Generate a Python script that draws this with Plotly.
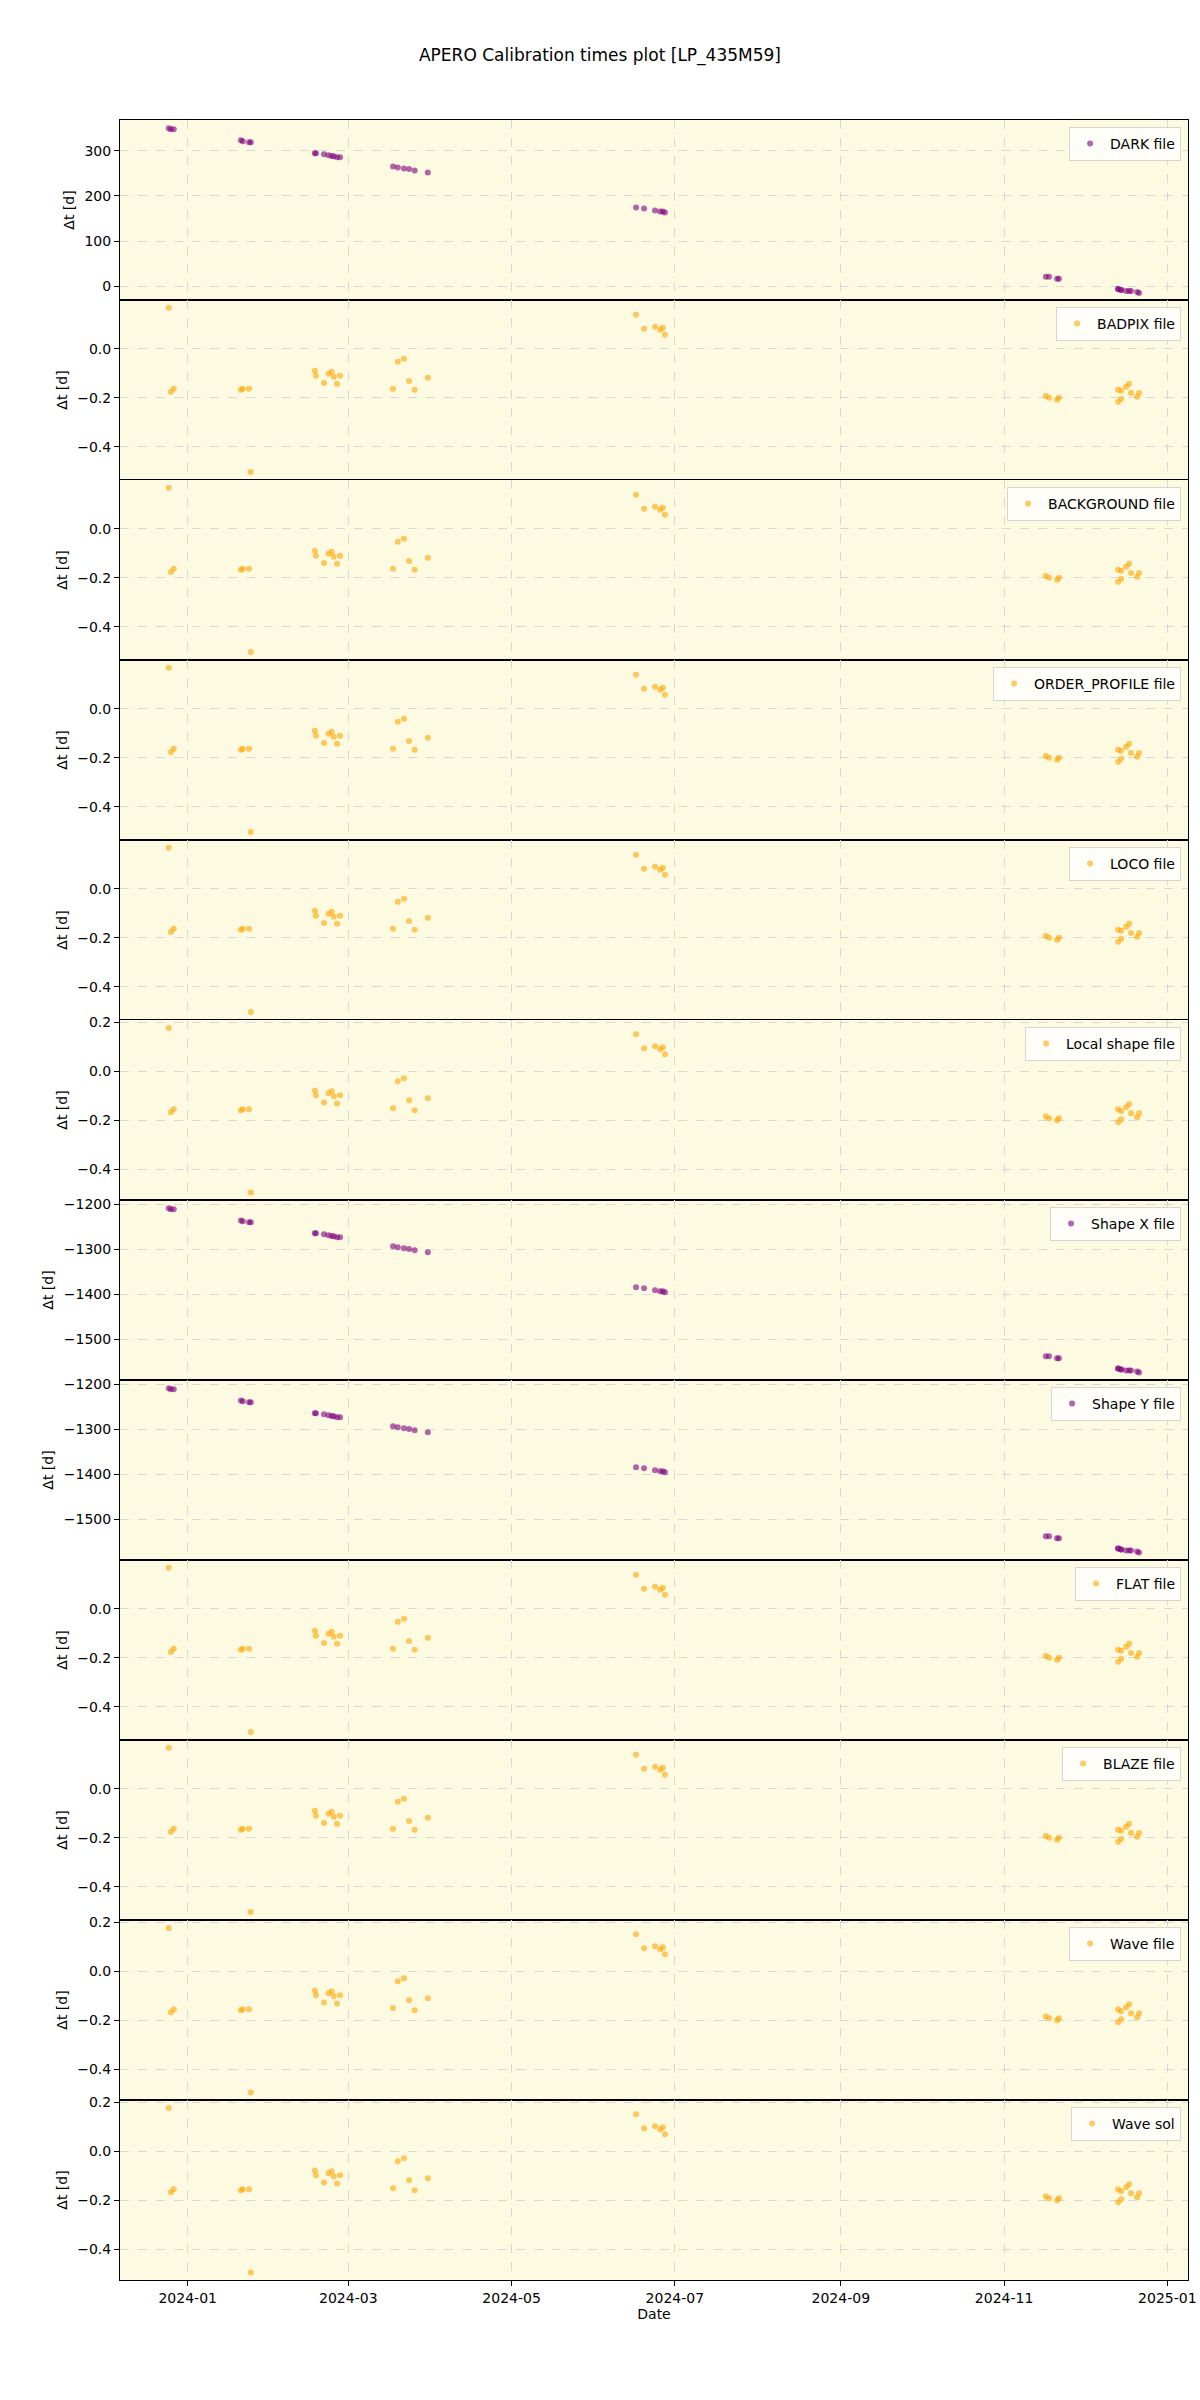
import plotly.graph_objects as go
from plotly.subplots import make_subplots

# observation dates (same for every panel)
obs_dates = [
    '2023-12-24 22:00', '2023-12-25 17:00', '2023-12-26 19:00',
    '2024-01-20 21:00', '2024-01-21 14:00', '2024-01-23 22:00', '2024-01-24 14:00',
    '2024-02-17 12:00', '2024-02-17 22:00', '2024-02-20 22:00', '2024-02-22 14:00',
    '2024-02-23 19:00', '2024-02-24 14:00', '2024-02-25 19:00', '2024-02-26 22:00',
    '2024-03-17 17:00', '2024-03-19 12:00', '2024-03-21 19:00', '2024-03-23 17:00',
    '2024-03-25 19:00', '2024-03-30 17:00',
    '2024-06-16 12:00', '2024-06-19 12:00', '2024-06-23 14:00', '2024-06-25 12:00',
    '2024-06-26 12:00', '2024-06-27 07:00',
    '2024-11-16 14:00', '2024-11-17 19:00', '2024-11-20 19:00', '2024-11-21 12:00',
    '2024-12-13 14:00', '2024-12-13 15:00', '2024-12-14 17:00', '2024-12-14 18:00',
    '2024-12-16 14:00', '2024-12-17 17:00', '2024-12-18 10:00', '2024-12-20 17:00',
    '2024-12-21 10:00',
]

dark_dt = [
    349.8, 347.6, 347.6,
    323.0, 320.9, 318.7, 318.7,
    294.2, 294.2, 292.0, 289.8, 288.2, 287.6, 285.3, 285.3,
    265.3, 263.1, 260.9, 259.3, 256.4, 252.0,
    174.2, 172.0, 167.6, 165.3, 165.3, 163.1,
    20.9, 20.9, 16.4, 16.4,
    -6.2, -6.2, -8.4, -8.4, -10.7, -10.7, -10.7, -12.9, -15.1,
]

# BADPIX / BACKGROUND / ORDER_PROFILE / LOCO / FLAT / BLAZE look the same
calib_dt = [
    0.167, -0.176, -0.163,
    -0.167, -0.163, -0.163, -0.502,
    -0.089, -0.110, -0.139, -0.102, -0.094, -0.114, -0.143, -0.110,
    -0.163, -0.053, -0.041, -0.131, -0.167, -0.118,
    0.139, 0.082, 0.090, 0.078, 0.086, 0.057,
    -0.192, -0.200, -0.208, -0.200,
    -0.167, -0.216, -0.171, -0.204, -0.155, -0.143, -0.180, -0.196, -0.180,
]

# Local shape / Wave file / Wave sol
wave_dt = [
    0.176, -0.167, -0.155,
    -0.159, -0.155, -0.155, -0.494,
    -0.078, -0.098, -0.127, -0.090, -0.082, -0.102, -0.131, -0.098,
    -0.151, -0.041, -0.029, -0.118, -0.159, -0.110,
    0.151, 0.094, 0.102, 0.090, 0.098, 0.069,
    -0.184, -0.192, -0.200, -0.192,
    -0.155, -0.208, -0.163, -0.196, -0.147, -0.135, -0.171, -0.188, -0.171,
]

shape_dt = [
    -1208.9, -1211.1, -1211.1,
    -1235.7, -1237.8, -1240.0, -1240.0,
    -1264.5, -1264.5, -1266.7, -1268.9, -1270.5, -1271.1, -1273.4, -1273.4,
    -1293.4, -1295.6, -1297.8, -1299.4, -1302.3, -1306.7,
    -1384.5, -1386.7, -1391.1, -1393.4, -1393.4, -1395.6,
    -1537.8, -1537.8, -1542.3, -1542.3,
    -1564.9, -1564.9, -1567.1, -1567.1, -1569.4, -1569.4, -1569.4, -1571.6, -1573.8,
]

# (legend name, values, colour, y range, tick step, tick format)
panels = [
    ('DARK file', dark_dt, 'purple', [-30.4, 368], 100, 'd'),
    ('BADPIX file', calib_dt, 'orange', [-0.535, 0.199], 0.2, '.1f'),
    ('BACKGROUND file', calib_dt, 'orange', [-0.535, 0.199], 0.2, '.1f'),
    ('ORDER_PROFILE file', calib_dt, 'orange', [-0.535, 0.199], 0.2, '.1f'),
    ('LOCO file', calib_dt, 'orange', [-0.535, 0.199], 0.2, '.1f'),
    ('Local shape file', wave_dt, 'orange', [-0.525, 0.209], 0.2, '.1f'),
    ('Shape X file', shape_dt, 'purple', [-1590.4, -1190.4], 100, 'd'),
    ('Shape Y file', shape_dt, 'purple', [-1590.4, -1190.4], 100, 'd'),
    ('FLAT file', calib_dt, 'orange', [-0.535, 0.199], 0.2, '.1f'),
    ('BLAZE file', calib_dt, 'orange', [-0.535, 0.199], 0.2, '.1f'),
    ('Wave file', wave_dt, 'orange', [-0.525, 0.209], 0.2, '.1f'),
    ('Wave sol', wave_dt, 'orange', [-0.525, 0.209], 0.2, '.1f'),
]

n = len(panels)
W, H = 1200, 2400
m_l, m_r, m_t, m_b = 120, 12, 120, 120
panel_h = (H - m_t - m_b) / n

fig = make_subplots(rows=n, cols=1, shared_xaxes=True, vertical_spacing=0)

grid = dict(showgrid=True, gridcolor='#d8d8d8', griddash='dash', gridwidth=1,
            showline=True, mirror=True, linecolor='black', linewidth=1,
            zeroline=False, automargin=False)

for i, (name, vals, color, yr, step, fmt) in enumerate(panels):
    row = i + 1
    leg = 'legend' if i == 0 else f'legend{row}'
    fig.add_trace(go.Scatter(
        x=obs_dates, y=vals, mode='markers', name=name,
        marker=dict(color=color, size=6, opacity=0.6, line=dict(width=0)),
        legend=leg, showlegend=True,
    ), row=row, col=1)

    fig.update_yaxes(range=yr, dtick=step, tick0=0, tickformat=fmt,
                     ticks='outside', ticklen=5, tickcolor='black',
                     title=dict(text='Δt [d]', standoff=6, font=dict(size=14)),
                     row=row, col=1, **grid)

    # legend box in the upper right of each panel
    top_px = m_t + i * panel_h + 7
    fig.update_layout({leg: dict(
        x=0.9935, xanchor='right',
        y=(H - m_b - top_px) / (H - m_t - m_b), yanchor='top',
        bgcolor='rgba(255,255,255,0.8)', bordercolor='#d6d6d6', borderwidth=1,
        font=dict(size=14, color='black'),
    )})

fig.update_xaxes(type='date', range=['2023-12-06 17:00', '2025-01-08 17:00'],
                 dtick='M2', tick0='2024-01-01', tickformat='%Y-%m', **grid)
fig.update_xaxes(ticks='outside', ticklen=5, tickcolor='black',
                 title=dict(text='Date', standoff=4, font=dict(size=14)),
                 row=n, col=1)

fig.update_layout(
    width=W, height=H,
    margin=dict(l=m_l, r=m_r, t=m_t, b=m_b),
    paper_bgcolor='white',
    plot_bgcolor='#fcfae1',
    font=dict(family='DejaVu Sans', size=14, color='black'),
    title=dict(text='APERO Calibration times plot [LP_435M59]',
               x=0.5, xref='container', xanchor='center',
               y=1 - 55 / H, yref='container', yanchor='middle',
               font=dict(size=17)),
)

# drop the browser's default 8px body margin so the figure sits at (0, 0)
fig.write_html('out.html', config={'displayModeBar': False},
               post_script="document.body.style.margin='0';")
